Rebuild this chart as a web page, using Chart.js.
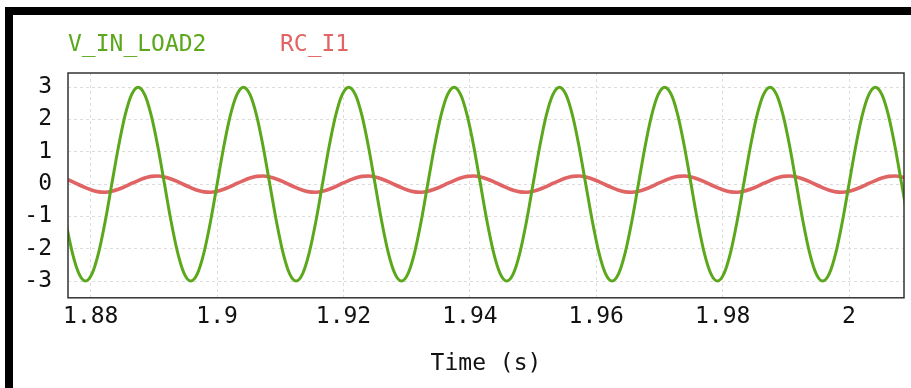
<!DOCTYPE html>
<html>
<head>
<meta charset="utf-8">
<script src="https://cdn.jsdelivr.net/npm/chart.js@4/dist/chart.umd.min.js"></script>
<style>
  html, body { margin: 0; padding: 0; background: #fff; overflow: hidden; width: 911px; height: 388px; }
  #wrap { position: relative; width: 911px; height: 388px; }
  #graph1 { position: absolute; left: -12px; top: 0; }
  #frame { position: absolute; left: 5px; top: 7px; width: 1000px; height: 400px;
           border: 8px solid #000; pointer-events: none; }
</style>
</head>
<body>
<div id="wrap">
  <canvas id="graph1" width="925" height="388"></canvas>
  <div id="frame"></div>
</div>
<script>
// time samples (s), 1/16 of a 60 Hz period apart
var time = [
  1.87500, 1.87604, 1.87708, 1.87813, 1.87917, 1.88021, 1.88125, 1.88229,
  1.88333, 1.88438, 1.88542, 1.88646, 1.88750, 1.88854, 1.88958, 1.89063,
  1.89167, 1.89271, 1.89375, 1.89479, 1.89583, 1.89688, 1.89792, 1.89896,
  1.90000, 1.90104, 1.90208, 1.90313, 1.90417, 1.90521, 1.90625, 1.90729,
  1.90833, 1.90938, 1.91042, 1.91146, 1.91250, 1.91354, 1.91458, 1.91563,
  1.91667, 1.91771, 1.91875, 1.91979, 1.92083, 1.92188, 1.92292, 1.92396,
  1.92500, 1.92604, 1.92708, 1.92813, 1.92917, 1.93021, 1.93125, 1.93229,
  1.93333, 1.93438, 1.93542, 1.93646, 1.93750, 1.93854, 1.93958, 1.94063,
  1.94167, 1.94271, 1.94375, 1.94479, 1.94583, 1.94688, 1.94792, 1.94896,
  1.95000, 1.95104, 1.95208, 1.95313, 1.95417, 1.95521, 1.95625, 1.95729,
  1.95833, 1.95938, 1.96042, 1.96146, 1.96250, 1.96354, 1.96458, 1.96563,
  1.96667, 1.96771, 1.96875, 1.96979, 1.97083, 1.97188, 1.97292, 1.97396,
  1.97500, 1.97604, 1.97708, 1.97813, 1.97917, 1.98021, 1.98125, 1.98229,
  1.98333, 1.98438, 1.98542, 1.98646, 1.98750, 1.98854, 1.98958, 1.99063,
  1.99167, 1.99271, 1.99375, 1.99479, 1.99583, 1.99688, 1.99792, 1.99896,
  2.00000, 2.00104, 2.00208, 2.00313, 2.00417, 2.00521, 2.00625, 2.00729,
  2.00833, 2.00938, 2.01042, 2.01146, 2.01250
];

var vInLoad2 = [
  0, -1.15, -2.12, -2.77, -3, -2.77, -2.12, -1.15, 0, 1.15, 2.12, 2.77, 3, 2.77, 2.12, 1.15,
  0, -1.15, -2.12, -2.77, -3, -2.77, -2.12, -1.15, 0, 1.15, 2.12, 2.77, 3, 2.77, 2.12, 1.15,
  0, -1.15, -2.12, -2.77, -3, -2.77, -2.12, -1.15, 0, 1.15, 2.12, 2.77, 3, 2.77, 2.12, 1.15,
  0, -1.15, -2.12, -2.77, -3, -2.77, -2.12, -1.15, 0, 1.15, 2.12, 2.77, 3, 2.77, 2.12, 1.15,
  0, -1.15, -2.12, -2.77, -3, -2.77, -2.12, -1.15, 0, 1.15, 2.12, 2.77, 3, 2.77, 2.12, 1.15,
  0, -1.15, -2.12, -2.77, -3, -2.77, -2.12, -1.15, 0, 1.15, 2.12, 2.77, 3, 2.77, 2.12, 1.15,
  0, -1.15, -2.12, -2.77, -3, -2.77, -2.12, -1.15, 0, 1.15, 2.12, 2.77, 3, 2.77, 2.12, 1.15,
  0, -1.15, -2.12, -2.77, -3, -2.77, -2.12, -1.15, 0, 1.15, 2.12, 2.77, 3, 2.77, 2.12, 1.15,
  0, -1.15, -2.12, -2.77, -3
];

var rcI1 = [
  0.22, 0.16, 0.08, -0.02, -0.11, -0.19, -0.24, -0.25, -0.22, -0.16, -0.08, 0.02, 0.11, 0.19, 0.24, 0.25,
  0.22, 0.16, 0.08, -0.02, -0.11, -0.19, -0.24, -0.25, -0.22, -0.16, -0.08, 0.02, 0.11, 0.19, 0.24, 0.25,
  0.22, 0.16, 0.08, -0.02, -0.11, -0.19, -0.24, -0.25, -0.22, -0.16, -0.08, 0.02, 0.11, 0.19, 0.24, 0.25,
  0.22, 0.16, 0.08, -0.02, -0.11, -0.19, -0.24, -0.25, -0.22, -0.16, -0.08, 0.02, 0.11, 0.19, 0.24, 0.25,
  0.22, 0.16, 0.08, -0.02, -0.11, -0.19, -0.24, -0.25, -0.22, -0.16, -0.08, 0.02, 0.11, 0.19, 0.24, 0.25,
  0.22, 0.16, 0.08, -0.02, -0.11, -0.19, -0.24, -0.25, -0.22, -0.16, -0.08, 0.02, 0.11, 0.19, 0.24, 0.25,
  0.22, 0.16, 0.08, -0.02, -0.11, -0.19, -0.24, -0.25, -0.22, -0.16, -0.08, 0.02, 0.11, 0.19, 0.24, 0.25,
  0.22, 0.16, 0.08, -0.02, -0.11, -0.19, -0.24, -0.25, -0.22, -0.16, -0.08, 0.02, 0.11, 0.19, 0.24, 0.25,
  0.22, 0.16, 0.08, -0.02, -0.11
];

var xTicks = [1.88, 1.9, 1.92, 1.94, 1.96, 1.98, 2];
var xTickLabels = ['1.88', '1.9', '1.92', '1.94', '1.96', '1.98', '2'];
var yTicks = [-3, -2, -1, 0, 1, 2, 3];

var series = [
  { name: 'V_IN_LOAD2', values: vInLoad2, color: '#5ca81c', width: 3 },
  { name: 'RC_I1', values: rcI1, color: '#e06464', width: 3.6 }
];

var monoFont = 'DejaVu Sans Mono';

var data = { datasets: [] };
series.forEach(s => {
  var courbe = new Object();
  courbe.label = s.name;
  courbe.data = time.map((t, i) => ({ x: t, y: s.values[i] }));
  courbe.borderColor = s.color;
  courbe.backgroundColor = s.color;
  courbe.borderWidth = s.width;
  courbe.pointRadius = 0;
  courbe.cubicInterpolationMode = 'monotone';
  courbe.fill = false;
  data.datasets.push(courbe);
});

// box around the plotting area
var plotBox = {
  id: 'plotBox',
  afterDraw(chart) {
    var a = chart.chartArea, c = chart.ctx;
    c.save();
    c.strokeStyle = '#333';
    c.lineWidth = 1.5;
    c.strokeRect(a.left, a.top, a.right - a.left, a.bottom - a.top);
    c.restore();
  }
};

var gridDash = { color: '#dcdcdc', lineWidth: 1, drawTicks: false };

var config = {
  type: 'line',
  data: data,
  options: {
    responsive: false,
    devicePixelRatio: 1,
    animation: false,
    layout: { padding: { left: 6.5, right: 9, top: 22, bottom: 0 } },
    plugins: {
      tooltip: { enabled: false },
      legend: {
        position: 'top',
        align: 'start',
        labels: {
          font: { family: monoFont, size: 23 },
          boxWidth: 56,
          boxHeight: 35,
          padding: 6,
          generateLabels(chart) {
            return chart.data.datasets.map((ds, i) => ({
              text: ds.label,
              fillStyle: 'rgba(0,0,0,0)',
              strokeStyle: 'rgba(0,0,0,0)',
              lineWidth: 0,
              fontColor: ds.borderColor,
              datasetIndex: i,
              hidden: false
            }));
          }
        }
      }
    },
    scales: {
      x: {
        type: 'linear',
        min: 1.8764,
        max: 2.0087,
        afterBuildTicks(scale) { scale.ticks = xTicks.map(v => ({ value: v })); },
        ticks: {
          padding: 5,
          maxRotation: 0,
          autoSkip: false,
          color: '#111',
          font: { family: monoFont, size: 23 },
          callback: (v, i) => xTickLabels[i]
        },
        grid: gridDash,
        border: { display: false, dash: [3, 3] },
        title: {
          display: true,
          text: 'Time (s)',
          color: '#111',
          font: { family: monoFont, size: 23 },
          padding: { top: 15, bottom: 10 }
        }
      },
      y: {
        min: -3.52,
        max: 3.44,
        afterBuildTicks(scale) { scale.ticks = yTicks.map(v => ({ value: v })); },
        afterFit(scale) { scale.width = 73.5; },
        ticks: {
          padding: 16,
          color: '#111',
          font: { family: monoFont, size: 23 }
        },
        grid: gridDash,
        border: { display: false, dash: [3, 3] }
      }
    }
  },
  plugins: [plotBox]
};

var ctx = document.getElementById('graph1').getContext('2d');
var graph1 = new Chart(ctx, config);
</script>
</body>
</html>
